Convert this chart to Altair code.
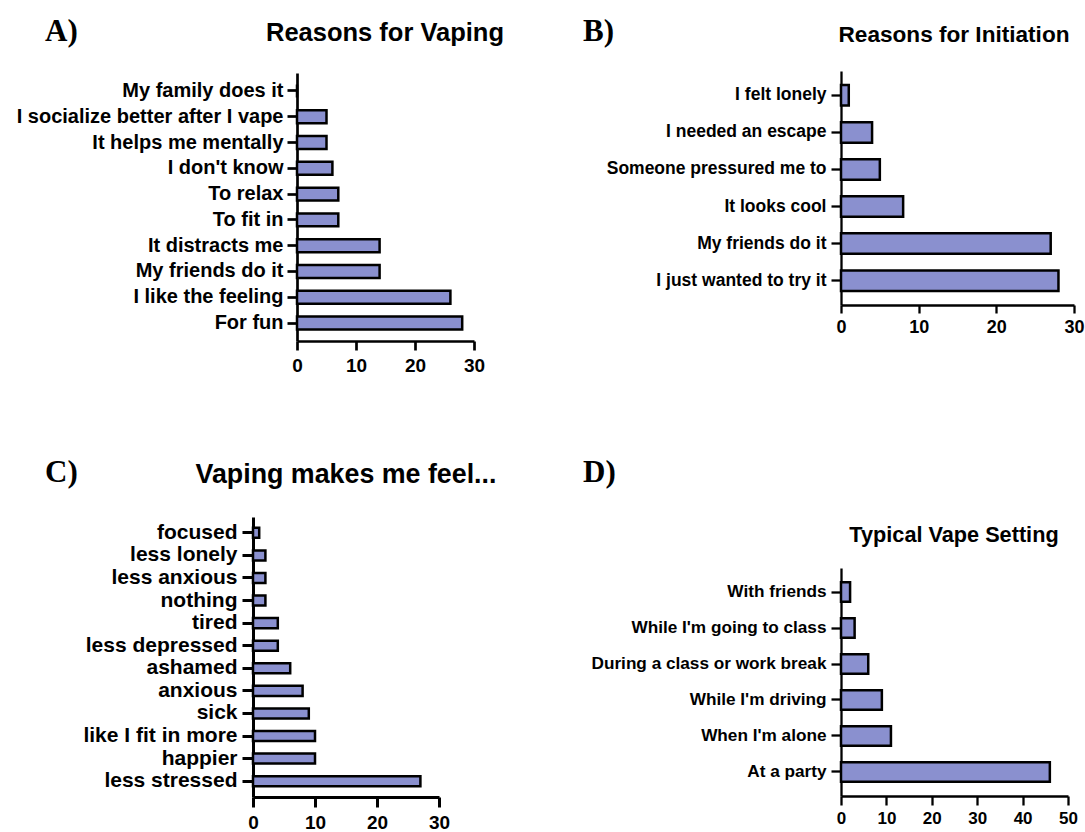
import altair as alt
import pandas as pd

# ---- data -------------------------------------------------------------
vaping_reasons = ["My family does it", "I socialize better after I vape",
                  "It helps me mentally", "I don't know", "To relax", "To fit in",
                  "It distracts me", "My friends do it", "I like the feeling", "For fun"]
vaping_counts = [0, 5, 5, 6, 7, 7, 14, 14, 26, 28]

initiation_reasons = ["I felt lonely", "I needed an escape", "Someone pressured me to",
                      "It looks cool", "My friends do it", "I just wanted to try it"]
initiation_counts = [1, 4, 5, 8, 27, 28]

feelings = ["focused", "less lonely", "less anxious", "nothing", "tired",
            "less depressed", "ashamed", "anxious", "sick", "like I fit in more",
            "happier", "less stressed"]
feeling_counts = [1, 2, 2, 2, 4, 4, 6, 8, 9, 10, 10, 27]

settings = ["With friends", "While I'm going to class", "During a class or work break",
            "While I'm driving", "When I'm alone", "At a party"]
setting_counts = [2, 3, 6, 9, 11, 46]

FILL = "#8a90cf"
SANS = "Liberation Sans"
SERIF = "Liberation Serif"

# every panel gets the same box; each plot sits inside it via its scale ranges
W, H = 240, 280
COL_GAP, ROW_GAP = 348, 166


def panel(cats, vals, xmax, xticks, xr, yr, pad_in, pad_out, ylab, xlab, aw,
          xtick, xpad, ytick, ypad, title, tsize, tx, ty, letter, lx, ly, frame=None):
    df = pd.DataFrame({"label": cats, "value": vals})
    bars = alt.Chart(df).mark_bar(fill=FILL, stroke="black", strokeWidth=2.5).encode(
        x=alt.X("value:Q",
                scale=alt.Scale(domain=[0, xmax], nice=False, range=list(xr)),
                axis=alt.Axis(values=xticks, title=None, grid=False, format="d",
                              offset=yr[1] - H,
                              domainColor="black", domainWidth=aw,
                              tickColor="black", tickWidth=aw, tickSize=xtick,
                              labelFont=SANS, labelFontSize=xlab, labelFontWeight="bold",
                              labelColor="black", labelPadding=xpad, labelFlush=False)),
        y=alt.Y("label:N", sort=cats,
                scale=alt.Scale(paddingInner=pad_in, paddingOuter=pad_out, range=list(yr)),
                axis=alt.Axis(title=None, grid=False, offset=-xr[0],
                              domainColor="black", domainWidth=aw,
                              tickColor="black", tickWidth=aw, tickSize=ytick,
                              labelFont=SANS, labelFontSize=ylab, labelFontWeight="bold",
                              labelColor="black", labelPadding=ypad, labelLimit=0)),
    )
    one = alt.Data(values=[{}])
    head = alt.Chart(one).mark_text(
        text=title, font=SANS, fontSize=tsize, fontWeight="bold", color="black",
        align="center", baseline="alphabetic").encode(x=alt.value(tx), y=alt.value(ty))
    tag = alt.Chart(one).mark_text(
        text=letter, font=SERIF, fontSize=31, fontWeight="bold", color="black",
        align="left", baseline="alphabetic").encode(x=alt.value(lx), y=alt.value(ly))
    layers = [bars, head, tag]
    if frame is not None:
        # transparent box that pins the page edges
        layers.insert(0, alt.Chart(one).mark_rect(opacity=0).encode(
            x=alt.value(frame[0]), x2=alt.value(frame[1]),
            y=alt.value(frame[2]), y2=alt.value(frame[3])))
    return alt.layer(*layers).properties(width=W, height=H)


pa = panel(vaping_reasons, vaping_counts, 30, [0, 10, 20, 30], (44, 221), (2, 270),
           0.5, 0.445, 20, 19, 2.7, 9, 6, 10, 4,
           "Reasons for Vaping", 25.5, 132, -30, "A)", -208, -30,
           frame=(-253, 0, -71, 0))
pb = panel(initiation_reasons, initiation_counts, 30, [0, 10, 20, 30], (0, 233), (0, 234),
           0.447, 0.38, 17.5, 18, 2.3, 8, 5, 10, 5,
           "Reasons for Initiation", 22.6, 113, -29.5, "B)", -258, -30)
pc = panel(feelings, feeling_counts, 30, [0, 10, 20, 30], (0, 186), (0, 280),
           0.557, 0.478, 21, 19, 3, 10, 6, 11, 5,
           "Vaping makes me feel...", 26.8, 93, -34, "C)", -208, -35)
pd_ = panel(settings, setting_counts, 50, [0, 10, 20, 30, 40, 50], (0, 227), (51, 279),
            0.458, 0.3975, 17.2, 17, 2.3, 9, 5, 10, 5,
            "Typical Vape Setting", 21.7, 113, 25, "D)", -258, -35,
            frame=(0, 244, 0, 315))

chart = alt.concat(
    pa, pb, pc, pd_, columns=2, bounds="flush", align="all",
    spacing={"column": COL_GAP, "row": ROW_GAP},
).properties(padding=0).configure_view(stroke=None)

chart.save("out.html", embed_options={"renderer": "svg", "actions": False})
